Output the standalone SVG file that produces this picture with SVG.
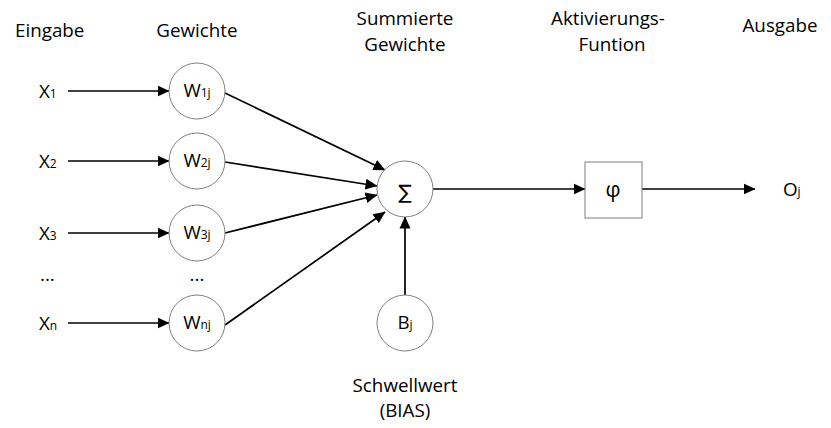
<svg xmlns="http://www.w3.org/2000/svg" width="831" height="428" viewBox="0 0 831 428">
<style>
text{font-family:"Open Sans","Liberation Sans",sans-serif;font-size:18.8px;fill:#000}
.lbl{text-anchor:middle}
.node{fill:#fff;stroke:#7f7f7f;stroke-width:1}
.sub{font-size:12px}
.edge{stroke:#000;stroke-width:1.7;fill:none;marker-end:url(#arr)}
</style>
<defs>
<marker id="arr" markerUnits="userSpaceOnUse" viewBox="0 0 12 12" refX="11.5" refY="6" markerWidth="12" markerHeight="12" orient="auto">
<path d="M0,0.5 L12,6 L0,11.5 z" fill="#000"/>
</marker>
</defs>
<rect width="831" height="428" fill="#fff"/>
<g id="headers">
<text x="15" y="37">Eingabe</text>
<text x="197" y="37" class="lbl">Gewichte</text>
<text x="405" y="25" class="lbl">Summierte</text>
<text x="405" y="51" class="lbl">Gewichte</text>
<text x="608" y="25" class="lbl">Aktivierungs-</text>
<text x="612" y="51" class="lbl">Funtion</text>
<text x="780" y="32" class="lbl">Ausgabe</text>
<text x="405" y="392" class="lbl">Schwellwert</text>
<text x="405" y="417" class="lbl">(BIAS)</text>
</g>
<g id="inputs">
<text x="39" y="98">X<tspan class="sub">1</tspan></text>
<text x="39" y="168">X<tspan class="sub">2</tspan></text>
<text x="39" y="240">X<tspan class="sub">3</tspan></text>
<text x="40" y="281">...</text>
<text x="39" y="330">X<tspan class="sub">n</tspan></text>
<text x="197" y="281" class="lbl">...</text>
</g>
<g id="connectors">
<line class="edge" x1="68" y1="91" x2="169" y2="91"/>
<line class="edge" x1="68" y1="161" x2="169" y2="161"/>
<line class="edge" x1="68" y1="233" x2="169" y2="233"/>
<line class="edge" x1="68" y1="323" x2="169" y2="323"/>
<line class="edge" x1="225" y1="93" x2="385" y2="170"/>
<line class="edge" x1="225" y1="162" x2="377" y2="186"/>
<line class="edge" x1="225" y1="233" x2="377" y2="195"/>
<line class="edge" x1="225" y1="325" x2="385" y2="212"/>
<line class="edge" x1="405" y1="295" x2="405" y2="217"/>
<line class="edge" x1="433" y1="189" x2="585" y2="189"/>
<line class="edge" x1="642" y1="189" x2="755" y2="189"/>
</g>
<g id="w1"><circle class="node" cx="197" cy="91" r="28"/><text x="197" y="97" class="lbl">W<tspan class="sub">1j</tspan></text></g>
<g id="w2"><circle class="node" cx="197" cy="161" r="28"/><text x="197" y="167" class="lbl">W<tspan class="sub">2j</tspan></text></g>
<g id="w3"><circle class="node" cx="197" cy="233" r="28"/><text x="197" y="239" class="lbl">W<tspan class="sub">3j</tspan></text></g>
<g id="wn"><circle class="node" cx="197" cy="323" r="28"/><text x="197" y="329" class="lbl">W<tspan class="sub">nj</tspan></text></g>
<g id="sum"><circle class="node" cx="405" cy="189" r="28"/><text x="405" y="199" class="lbl" style="font-family:'DejaVu Sans',sans-serif;font-size:20px">∑</text></g>
<g id="bias"><circle class="node" cx="405" cy="323" r="28"/><text x="405" y="329" class="lbl">B<tspan class="sub">j</tspan></text></g>
<g id="phi"><rect class="node" x="585" y="162" width="57" height="56"/><text x="613" y="197" class="lbl" style="font-size:21px">φ</text></g>
<g id="out"><text x="783" y="196">O<tspan class="sub">j</tspan></text></g>
</svg>
